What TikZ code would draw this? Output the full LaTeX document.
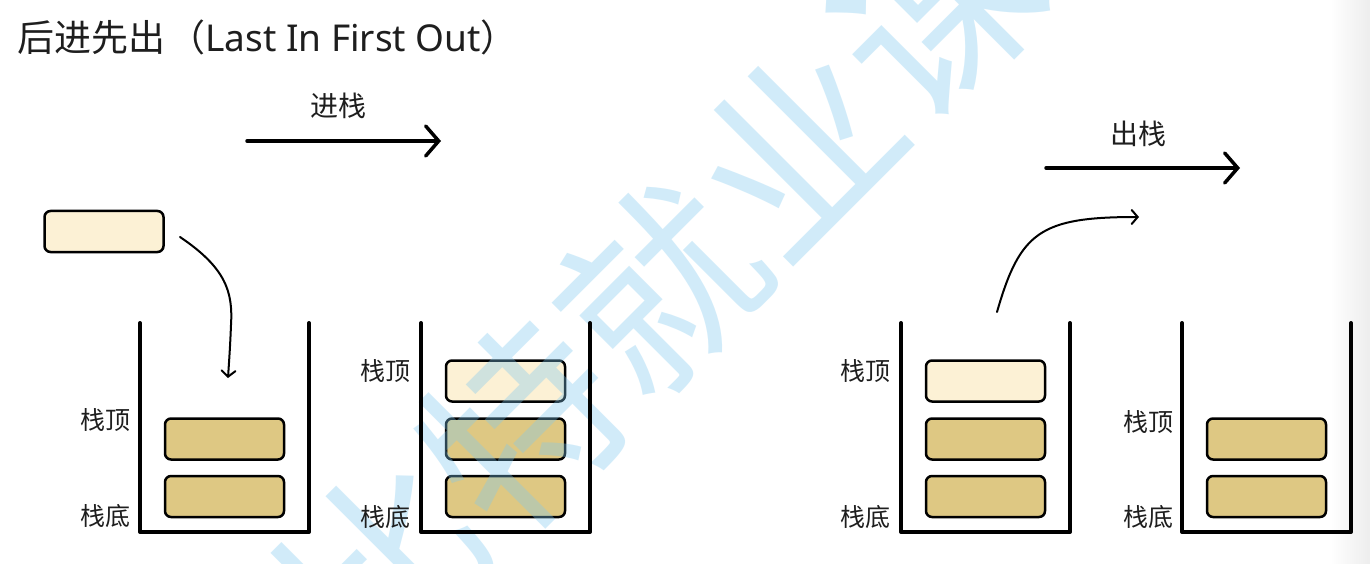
\documentclass[tikz,border=0pt]{standalone}
\usepackage{fontspec}
\newfontfamily\cjk{Noto Sans CJK SC}
\newfontfamily\latin{Noto Sans}
\usetikzlibrary{arrows.meta}
\definecolor{boxcream}{RGB}{252,241,213}
\definecolor{boxtan}{RGB}{222,200,131}
\definecolor{wmblue}{RGB}{125,200,240}
\definecolor{ink}{RGB}{30,30,30}
\tikzset{
  blk/.style={draw=black, line width=2.5pt, rounded corners=6pt, minimum width=119pt, minimum height=41pt, inner sep=0pt},
  newblk/.style={blk, fill=boxcream},
  oldblk/.style={blk, fill=boxtan},
  wall/.style={line width=4pt, line cap=round, line join=round},
  lbl/.style={font=\cjk\fontsize{25}{28}\selectfont, inner sep=0pt, anchor=base, text=ink},
  arrlbl/.style={font=\cjk\fontsize{28}{32}\selectfont, inner sep=0pt, anchor=base, text=ink},
  bigarrow/.style={line width=3.5pt, line cap=round, -{Straight Barb[length=13pt,width=30pt,line cap=round]}},
  curvearrow/.style={line width=2pt, line cap=round, -{Straight Barb[length=6pt,width=14pt,line cap=round]}},
}
\begin{document}
\begin{tikzpicture}[x=1pt,y=-1pt]
\useasboundingbox (0,0) rectangle (1370,564);
\fill[white] (0,0) rectangle (1370,564);
\shade[left color=white, right color=black!7] (1330,0) rectangle (1370,564);

% title
\node[font=\cjk\fontsize{37}{40}\selectfont, inner sep=0pt, anchor=base west, text=ink] (title) at (17,52) {后进先出\hspace{3pt}（{\latin\fontsize{37}{40}\selectfont Last In First Out}）};

% push / pop arrows
\coordinate (pushS) at (247,141);
\coordinate (pushE) at (441,141);
\draw[bigarrow] (pushS) -- (pushE);
\node[arrlbl] (pushL) at (338,117) {进栈};

\coordinate (popS) at (1046,168);
\coordinate (popE) at (1240,168);
\draw[bigarrow] (popS) -- (popE);
\node[arrlbl] (popL) at (1138,145) {出栈};

% loose element
\node[newblk] (loose) at (104,231.5) {};

% boxes
\node[oldblk] (s1b2) at (224.5,439) {};
\node[oldblk] (s1b1) at (224.5,496.5) {};

\node[newblk] (s2b3) at (505.5,381) {};
\node[oldblk] (s2b2) at (505.5,439) {};
\node[oldblk] (s2b1) at (505.5,496.5) {};

\node[newblk] (s3b3) at (985.5,381) {};
\node[oldblk] (s3b2) at (985.5,439) {};
\node[oldblk] (s3b1) at (985.5,496.5) {};

\node[oldblk] (s4b2) at (1266.5,439) {};
\node[oldblk] (s4b1) at (1266.5,496.5) {};

% watermark
\node[font=\cjk\fontsize{195}{200}\selectfont, text=wmblue, text opacity=0.35, rotate=45, inner sep=0pt] (wm) at (660,288) {比特就业课};

% stack walls
\draw[wall] (140,323) -- (140,532) -- (309,532) -- (309,323);
\draw[wall] (421,323) -- (421,532) -- (590,532) -- (590,323);
\draw[wall] (901,323) -- (901,532) -- (1070,532) -- (1070,323);
\draw[wall] (1182,323) -- (1182,532) -- (1351,532) -- (1351,323);

% labels
\node[lbl] (s1top) at (105,429) {栈顶};
\node[lbl] (s1bot) at (105,525) {栈底};
\node[lbl] (s2top) at (385,380) {栈顶};
\node[lbl] (s2bot) at (385,526) {栈底};
\node[lbl] (s3top) at (865,380) {栈顶};
\node[lbl] (s3bot) at (865,526) {栈底};
\node[lbl] (s4top) at (1148,431) {栈顶};
\node[lbl] (s4bot) at (1148,526) {栈底};

% curved arrows
\coordinate (c1s) at (180,237);
\coordinate (c1e) at (228,378);
\draw[curvearrow] (c1s) .. controls (226,268) and (233,292) .. (231,325) .. controls (230,350) and (229,362) .. (c1e);

\coordinate (c2s) at (997,312);
\coordinate (c2e) at (1139,217);
\draw[curvearrow] (c2s) .. controls (1020,232) and (1040,217) .. (c2e);
\end{tikzpicture}
\end{document}
